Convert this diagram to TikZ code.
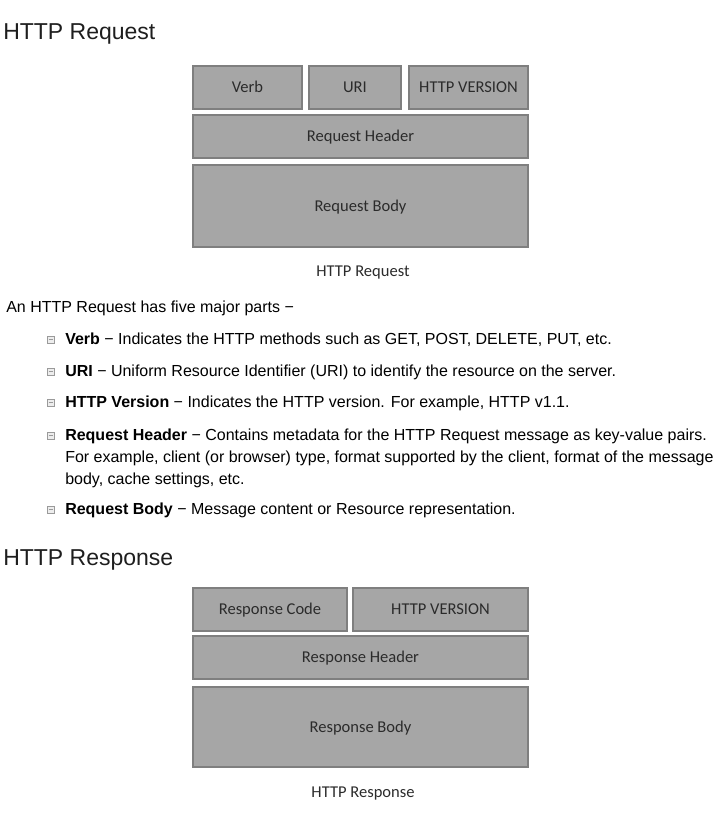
\documentclass[tikz,border=0pt]{standalone}
\usepackage{fontspec}
\setmainfont{Liberation Sans}
\newfontfamily\boxfont{Carlito}
\definecolor{boxfill}{HTML}{A6A6A6}
\definecolor{boxline}{HTML}{7F7F7F}
\definecolor{boxink}{HTML}{2B2B2B}
\definecolor{headink}{HTML}{1E1E1E}
\definecolor{markline}{HTML}{9A9A9A}
\definecolor{markfill}{HTML}{EDEDED}
\begin{document}
\begin{tikzpicture}[x=0.75pt,y=0.75pt,yscale=-1,xscale=1,
    partbox/.style={draw=boxline,fill=boxfill,line width=1.5pt,inner sep=0pt,
      text=boxink,text height=9pt,text depth=1pt,
      font=\boxfont\fontsize{12.4pt}{14pt}\selectfont},
    boxcaption/.style={inner sep=0pt,text=boxink,text height=9pt,text depth=1pt,
      font=\boxfont\fontsize{12.4pt}{14pt}\selectfont},
    heading/.style={anchor=base west,inner sep=0pt,text=headink,font=\fontsize{17.25pt}{20pt}\selectfont},
    bodytext/.style={anchor=base west,inner sep=0pt,font=\fontsize{12pt}{16.5pt}\selectfont},
    bulletmark/.style={draw=markline,fill=markfill,line width=0.6pt}]
\useasboundingbox (0,0) rectangle (726,824);

% Text Node
\node[heading] (reqtitle) at (3,39.5) {HTTP Request};

%Shape: Rectangle [Verb]
\node[partbox,minimum width=109*0.75pt,minimum height=43*0.75pt] (verb) at (247.5,87.5) {Verb};
%Shape: Rectangle [URI]
\node[partbox,minimum width=92*0.75pt,minimum height=43*0.75pt] (uri) at (355,87.5) {URI};
%Shape: Rectangle [HTTP VERSION]
\node[partbox,minimum width=119*0.75pt,minimum height=43*0.75pt] (reqversion) at (468.5,87.5) {HTTP VERSION};
%Shape: Rectangle [Request Header]
\node[partbox,minimum width=335*0.75pt,minimum height=43*0.75pt] (reqheader) at (360.5,136.5) {Request Header};
%Shape: Rectangle [Request Body]
\node[partbox,minimum width=335*0.75pt,minimum height=82*0.75pt] (reqbody) at (360.5,206) {Request Body};
% Text Node
\node[boxcaption] (reqcaption) at (363,271) {HTTP Request};

% Text Node
\node[bodytext] (intro) at (6,312.5) {An HTTP Request has five major parts −};

%Bullets
\foreach \y in {339.5,371.5,402.5,435.5,509.5}{
  \draw[bulletmark] (47,\y-3.5) rectangle (54,\y+3.5);
  \draw[markline,line width=0.6pt] (48.5,\y) -- (52.5,\y);
}

% Text Node
\node[bodytext] (verbitem) at (65,344.5) {\textbf{Verb} − Indicates the HTTP methods such as GET, POST, DELETE, PUT, etc.};
% Text Node
\node[bodytext] (uriitem) at (65,376.5) {\textbf{URI} − Uniform Resource Identifier (URI) to identify the resource on the server.};
% Text Node
\node[bodytext] (versionitem) at (65,407.5) {\textbf{HTTP Version} − Indicates the HTTP version. For example, HTTP v1.1.};
% Text Node (base is the last line)
\node[bodytext,align=left] (headeritem) at (65,484) {\textbf{Request Header} − Contains metadata for the HTTP Request message as key-value pairs.\\
For example, client (or browser) type, format supported by the client, format of the message\\
body, cache settings, etc.};
% Text Node
\node[bodytext] (bodyitem) at (65,514.5) {\textbf{Request Body} − Message content or Resource representation.};

% Text Node
\node[heading] (restitle) at (3,565.5) {HTTP Response};

%Shape: Rectangle [Response Code]
\node[partbox,minimum width=154*0.75pt,minimum height=43*0.75pt] (rescode) at (270,609.5) {Response Code};
%Shape: Rectangle [HTTP VERSION]
\node[partbox,minimum width=175*0.75pt,minimum height=43*0.75pt] (resversion) at (440.5,609.5) {HTTP VERSION};
%Shape: Rectangle [Response Header]
\node[partbox,minimum width=335*0.75pt,minimum height=43*0.75pt] (resheader) at (360.5,657.5) {Response Header};
%Shape: Rectangle [Response Body]
\node[partbox,minimum width=335*0.75pt,minimum height=80*0.75pt] (resbody) at (360.5,727) {Response Body};
% Text Node
\node[boxcaption] (rescaption) at (363,792) {HTTP Response};
\end{tikzpicture}
\end{document}
